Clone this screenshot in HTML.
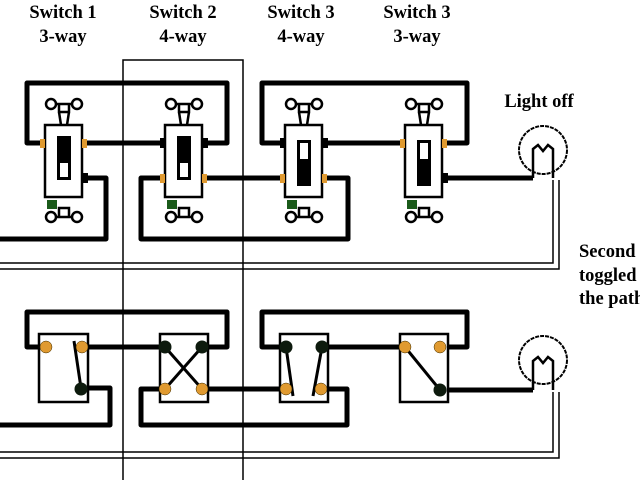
<!DOCTYPE html>
<html><head><style>body{margin:0;background:#fff}svg{display:block}text{font-family:"Liberation Serif",serif;font-weight:bold;font-size:18.5px}</style></head><body>
<svg width="640" height="480" viewBox="0 0 640 480" xmlns="http://www.w3.org/2000/svg">
<g text-anchor="middle">
<text x="63" y="18">Switch 1</text><text x="63" y="42">3-way</text>
<text x="183" y="18">Switch 2</text><text x="183" y="42">4-way</text>
<text x="301" y="18">Switch 3</text><text x="301" y="42">4-way</text>
<text x="417" y="18">Switch 3</text><text x="417" y="42">3-way</text>
<text x="539" y="107">Light off</text>
</g>
<text x="579" y="257">Second</text><text x="579" y="281">toggled</text><text x="579" y="304">the path</text>
<g fill="none" stroke="#000" stroke-width="1.5">
<path d="M123 480V60H243V480"/>
</g>
<g fill="none" stroke="#000" stroke-width="5" stroke-linejoin="round">
<path d="M40 143H27V83H227V143H205"/>
<path d="M82 143H165"/>
<path d="M82 178H106V239H0"/>
<path d="M160 178H141V239H348V178H320"/>
<path d="M205 178H285"/>
<path d="M285 143H262V83H467V143H440"/>
<path d="M320 143H405"/>
<path d="M440 178H533"/>
<path d="M40 347H27V312H227V347H202"/>
<path d="M82 347H165"/>
<path d="M81 388H110V425H0"/>
<path d="M165 389H141V425H347V389H321"/>
<path d="M202 389H285"/>
<path d="M286 347H262V312H467V347H440"/>
<path d="M322 347H405"/>
<path d="M440 390H533"/>
</g>
<g fill="none" stroke="#000" stroke-width="1.5">
<path d="M553 180V263H0M559 180V269H0"/>
<path d="M553 392V452H0M559 392V458H0"/>
<circle cx="543" cy="150" r="24" stroke-width="2" stroke-dasharray="4 1"/>
<circle cx="543" cy="360" r="24" stroke-width="2" stroke-dasharray="4 1"/>
<path d="M533 178V149L538 145L543 151L548 145L553 149V178" stroke-width="2.5"/>
<path d="M533 390V361L538 357L543 363L548 357L553 361V390" stroke-width="2.5"/>
</g>
<g id="sw">
<g stroke="#000" stroke-width="2.5" fill="#fff">
<path d="M51 104H77M59 104V112H69V104M59 112L61 125M69 112L67 125" fill="none"/>
<path d="M51 217H77M59 217V208H69V217" fill="none"/>
<circle cx="51" cy="104" r="5"/><circle cx="77" cy="104" r="5"/>
<circle cx="51" cy="217" r="5"/><circle cx="77" cy="217" r="5"/>
<rect x="45" y="125" width="37" height="72"/>
</g>
<rect x="47" y="200" width="10" height="9" fill="#1a5a1a"/>
</g>
<use href="#sw" x="120"/><use href="#sw" x="240"/><use href="#sw" x="360"/>
<g fill="#000">
<rect x="57" y="136" width="14" height="44"/><rect x="177" y="136" width="14" height="44"/>
<rect x="297" y="140" width="14" height="46"/><rect x="417" y="140" width="14" height="46"/>
</g>
<g fill="#fff">
<rect x="60" y="163" width="8" height="14"/><rect x="180" y="163" width="8" height="14"/>
<rect x="300" y="143" width="8" height="16"/><rect x="420" y="143" width="8" height="16"/>
</g>
<g fill="#e09a30">
<rect x="40" y="139" width="5" height="9"/><rect x="82" y="139" width="5" height="9"/>
<rect x="160" y="174" width="5" height="9"/><rect x="202" y="174" width="5" height="9"/>
<rect x="280" y="174" width="5" height="9"/><rect x="322" y="174" width="5" height="9"/>
<rect x="400" y="139" width="5" height="9"/><rect x="442" y="139" width="5" height="9"/>
</g>
<g fill="#000">
<rect x="82" y="173" width="6" height="10"/><rect x="160" y="138" width="6" height="10"/><rect x="202" y="138" width="6" height="10"/>
<rect x="280" y="138" width="6" height="10"/><rect x="322" y="138" width="6" height="10"/><rect x="442" y="173" width="6" height="10"/>
</g>
<g fill="#fff" stroke="#000" stroke-width="2.5">
<rect x="39" y="334" width="49" height="68"/><rect x="160" y="334" width="48" height="68"/>
<rect x="280" y="334" width="48" height="68"/><rect x="400" y="334" width="48" height="68"/>
</g>
<g stroke="#000" stroke-width="3">
<path d="M74 341L81 388"/>
<path d="M165 347L202 389M202 347L165 389"/>
<path d="M286 347L293 396M322 347L313 396"/>
<path d="M405 347L440 390"/>
</g>
<g fill="#e09a30" stroke="#3a2a00" stroke-width="0.5">
<circle cx="46" cy="347" r="6"/><circle cx="82" cy="347" r="6"/>
<circle cx="165" cy="389" r="6"/><circle cx="202" cy="389" r="6"/>
<circle cx="286" cy="389" r="6"/><circle cx="321" cy="389" r="6"/>
<circle cx="405" cy="347" r="6"/><circle cx="440" cy="347" r="6"/>
</g>
<g fill="#0d1a0d">
<circle cx="81" cy="389" r="6.5"/><circle cx="165" cy="347" r="6.5"/><circle cx="202" cy="347" r="6.5"/>
<circle cx="286" cy="347" r="6.5"/><circle cx="322" cy="347" r="6.5"/><circle cx="440" cy="390" r="6.5"/>
</g>
</svg>
</body></html>
